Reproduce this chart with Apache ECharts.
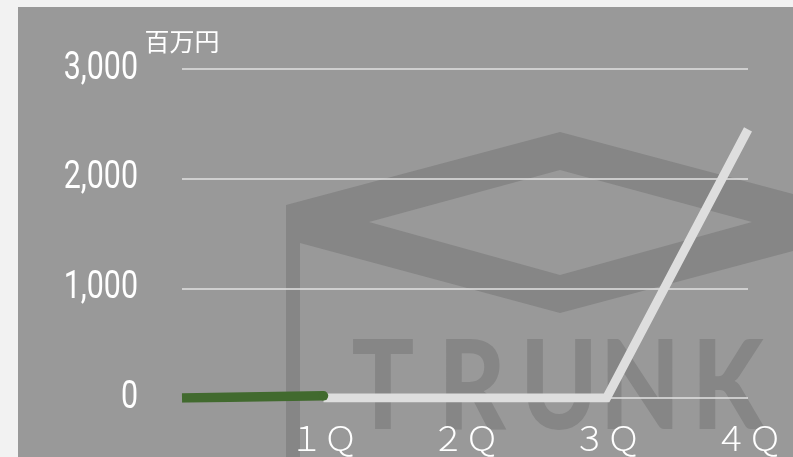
<!DOCTYPE html>
<html><head><meta charset="utf-8">
<script src="https://cdn.jsdelivr.net/npm/echarts@6/dist/echarts.min.js"></script>
<style>html,body{margin:0;padding:0;background:#f2f2f2;}#c{width:793px;height:457px;}</style>
</head><body><div id="c"></div>
<script>
// ---- data ----
const categories = ["", "１Ｑ", "２Ｑ", "３Ｑ", "４Ｑ"];
const prevSeries = [0, 20, null, null, null];
const currSeries = [null, 0, 0, 0, 2450];
const yTickValues = [0, 1000, 2000, 3000];
const yTickLabels = ["0", "1,000", "2,000", "3,000"];
const unitLabel = "百万円";
const watermarkLetters = ["T", "R", "U", "N", "K"];
// ---- styles / layout ----
const panelColor = "#999999";
const markColor = "#868686";
const letterX = [383, 472, 559, 640, 728];

const chart = echarts.init(document.getElementById('c'));
const graphics = [
  { type: 'rect', z: -100, silent: true, shape: { x: 18, y: 7, width: 775, height: 450 }, style: { fill: panelColor } },
  { type: 'polygon', z: -90, silent: true, shape: { points: [[560,132],[834,205],[834,240],[560,313],[300,243],[300,457],[286,457],[286,205]] }, style: { fill: markColor } },
  { type: 'polygon', z: -89, silent: true, shape: { points: [[369,222],[560,170],[752,222],[560,275]] }, style: { fill: panelColor } }
];
watermarkLetters.forEach((ch, i) => {
  graphics.push({ type: 'text', z: -88, silent: true, x: letterX[i], y: 389, scaleY: 1.2,
    style: { text: ch, fill: markColor, font: '900 104px Lato, "DejaVu Sans", sans-serif', textAlign: 'center', textVerticalAlign: 'middle' } });
});

const lastIdx = prevSeries.reduce((a, v, i) => (v != null ? i : a), -1);

chart.setOption({
  backgroundColor: '#f2f2f2',
  animation: false,
  graphic: graphics,
  grid: { left: 182, right: 45, top: 69, bottom: 59, containLabel: false },
  xAxis: {
    type: 'category', data: categories, boundaryGap: false,
    axisLine: { show: false }, axisTick: { show: false },
    axisLabel: { color: '#ffffff', fontSize: 34, fontWeight: 300, fontFamily: '"Noto Sans CJK JP", sans-serif', margin: 23 },
    splitLine: { show: false }
  },
  yAxis: {
    type: 'value', min: 0, max: 3000, interval: 1000,
    name: unitLabel, nameLocation: 'end', nameGap: 15,
    nameTextStyle: { color: '#ffffff', fontSize: 25, fontFamily: '"Noto Sans CJK JP", sans-serif', align: 'center' },
    axisLine: { show: false }, axisTick: { show: false },
    axisLabel: { show: false },
    splitLine: { lineStyle: { color: '#e2e2e2', width: 1.5 } }
  },
  series: [
    { type: 'line', data: currSeries, showSymbol: false, z: 3,
      lineStyle: { color: '#dedede', width: 9, cap: 'butt', join: 'miter' } },
    { type: 'line', data: prevSeries.map((v, i) => i === lastIdx ? { value: v, symbol: 'circle', symbolSize: 9.5 } : v),
      showSymbol: true, symbol: 'none', showAllSymbol: true, z: 4,
      itemStyle: { color: '#416a2e', borderWidth: 0 },
      lineStyle: { color: '#416a2e', width: 9.5, cap: 'butt' } }
  ]
});

// y tick labels, placed through the axis scale, condensed horizontally
const yLabelGraphics = yTickValues.map((v, i) => ({
  type: 'text', z: 10, silent: true,
  x: 138, y: chart.convertToPixel({ yAxisIndex: 0 }, v), scaleX: 0.8,
  style: { text: yTickLabels[i], fill: '#ffffff', font: '400 38px Roboto, sans-serif', textAlign: 'right', textVerticalAlign: 'middle' }
}));
chart.setOption({ graphic: graphics.concat(yLabelGraphics) });
</script></body></html>
